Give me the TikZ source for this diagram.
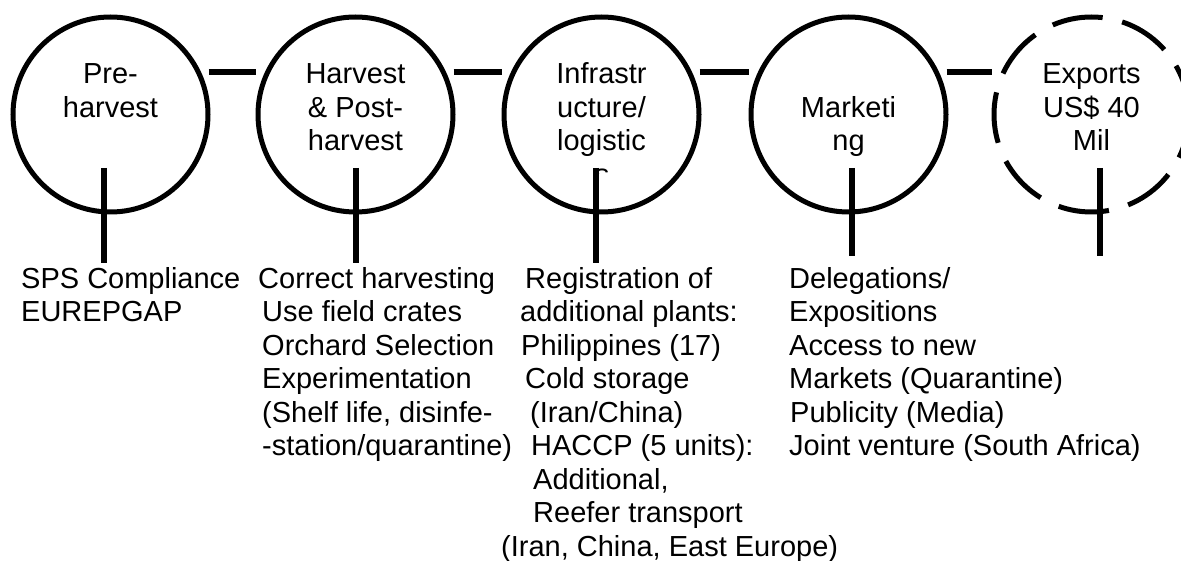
\documentclass[tikz,border=0pt]{standalone}
\usepackage{fontspec}
\setmainfont{Liberation Sans}
\usepackage{tikz}
\newcommand{\ctext}[3]{\begin{tabular}{@{}c@{}}#1\\#2\\#3\\[7.6pt]\end{tabular}}
\tikzset{
    stage/.style={circle,draw,line width=5pt,minimum size=195pt,inner sep=0pt,
      font=\fontsize{29}{33.5}\selectfont},
    goal/.style={stage,dash pattern=on 51pt off 20pt},
    link/.style={line width=6.5pt},
    stem/.style={line width=6.5pt},
    notes/.style={anchor=north west,align=left,inner sep=0pt,
      font=\fontsize{29}{33.5}\selectfont}}
\begin{document}
\begin{tikzpicture}[x=1pt,y=-1pt]
\useasboundingbox (0,0) rectangle (1181,561);
\node[stage] (pre) at (110.5,114.5) {\ctext{Pre-}{harvest}{}};
\node[stage] (harv) at (355.5,114.5) {\ctext{Harvest}{\& Post-}{harvest}};
\node[stage] (infra) at (601.5,114.5) {\ctext{Infrastr}{ucture/}{logistic}};
\node[stage] (mkt) at (848.5,114.5) {\ctext{}{Marketi}{ng}};
\node[goal] (exp) at (1091.5,114.5) {\ctext{Exports}{US\$ 40}{Mil}};

\begin{scope}
\clip (585,160) rectangle (615,174);
\node[inner sep=0pt,font=\fontsize{29}{33.5}\selectfont] (infras) at (602,176.5) {s};
\end{scope}

\foreach \a/\b in {pre/harv,harv/infra,infra/mkt,mkt/exp}
  \draw[link] ([shift={(98,-42.5)}]\a.center) -- ([shift={(-100,-42.5)}]\b.center);

\node[notes] (n1) at (21,267) {SPS Compliance\\EUREPGAP};
\node[notes] (n2) at (258,267) {Correct harvesting\\\hspace*{4pt}Use field crates\\
  \hspace*{4pt}Orchard Selection\\\hspace*{4pt}Experimentation\\
  \hspace*{4pt}(Shelf life, disinfe-\\\hspace*{4pt}-station/quarantine)};
\node[notes] (n3) at (501,267) {\hspace*{24pt}Registration of\\\hspace*{19pt}additional plants:\\
  \hspace*{20pt}Philippines (17)\\\hspace*{24pt}Cold storage\\
  \hspace*{29pt}(Iran/China)\\\hspace*{30pt}HACCP (5 units):\\
  \hspace*{32pt}Additional,\\\hspace*{32pt}Reefer transport\\
  (Iran, China, East Europe)};
\node[notes] (n4) at (789,267) {Delegations/\\Expositions\\Access to new\\
  Markets (Quarantine)\\\hspace*{1pt}Publicity (Media)\\Joint venture (South Africa)};

\coordinate (s1) at ([shift={(-6.5,53.5)}]pre.center);
\coordinate (s2) at ([shift={(0.5,53.5)}]harv.center);
\coordinate (s3) at ([shift={(-5.5,53.5)}]infra.center);
\coordinate (s4) at ([shift={(3.5,53.5)}]mkt.center);
\coordinate (s5) at ([shift={(8.5,53.5)}]exp.center);
\draw[stem,shorten >=4pt] (s1) -- (s1 |- n1.north);
\draw[stem,shorten >=4pt] (s2) -- (s2 |- n2.north);
\draw[stem,shorten >=4pt] (s3) -- (s3 |- n3.north);
\draw[stem,shorten >=11pt] (s4) -- (s4 |- n4.north);
\draw[stem,shorten >=11pt] (s5) -- (s5 |- n4.north);
\end{tikzpicture}
\end{document}
